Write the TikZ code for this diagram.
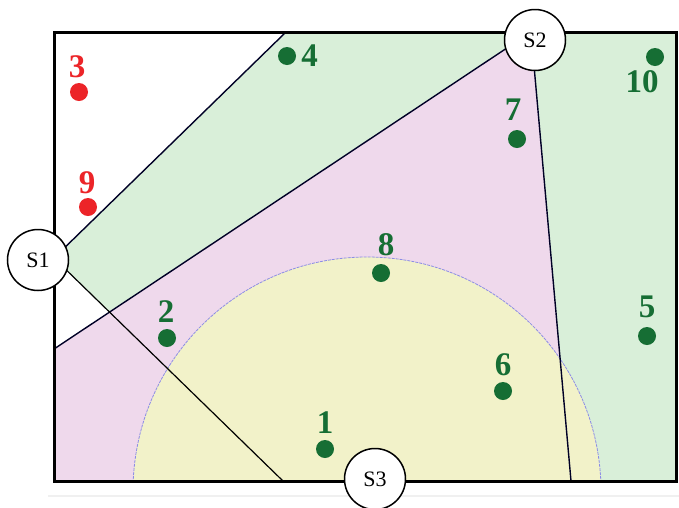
\documentclass[tikz,border=0pt]{standalone}
\usepackage{fontspec}
\setmainfont{Liberation Serif}
\usetikzlibrary{positioning}
\definecolor{zonegreen}{RGB}{217,239,217}
\definecolor{zonepink}{RGB}{239,217,236}
\definecolor{zoneyellow}{RGB}{242,242,201}
\definecolor{dotgreen}{RGB}{22,110,52}
\definecolor{dotred}{RGB}{236,36,40}
\definecolor{arcblue}{RGB}{140,140,230}

\begin{document}
\begin{tikzpicture}[
    x=1pt,
    y=-1pt,
    sensor/.style={
        circle,
        draw=black,
        fill=white,
        line width=1.5pt,
        minimum size=61pt,
        inner sep=0pt,
        font=\fontsize{22}{22}\selectfont
    },
    target/.style={
        circle,
        fill=#1,
        minimum size=18pt,
        inner sep=0pt
    },
    num/.style={
        text=#1,
        inner sep=0pt,
        font=\bfseries\fontsize{33}{33}\selectfont
    },
    edge/.style={line width=1.4pt, draw=black!85!blue},
    cut/.style={line width=1.2pt, draw=black},
    border/.style={line width=3pt, draw=black}
]

\useasboundingbox[fill=white] (0,0) rectangle (679,507);

\coordinate (tl) at (54,32);
\coordinate (br) at (676,481);
\coordinate (bl) at (54,481);
\coordinate (s1) at (54,258);
\coordinate (s2) at (531,32);
\coordinate (a1) at (286,32);
\coordinate (c1) at (283,481);
\coordinate (b1) at (54,349);
\coordinate (d1) at (571,481);
\coordinate (cx) at (intersection of s1--c1 and b1--s2);
\coordinate (arc) at (367,491);

\begin{scope}
\clip (tl) rectangle (br);
\fill[zonegreen] (tl) rectangle (br);
\fill[white] (tl) -- (a1) -- (s1) -- cycle;
\fill[white] (s1) -- (cx) -- (b1) -- cycle;
\fill[zonepink] (b1) -- (s2) -- (d1) -- (bl) -- cycle;
\fill[zoneyellow] (arc) circle[radius=234pt];
\draw[arcblue, line width=0.8pt, dash pattern=on 3pt off 1pt] (arc) circle[radius=234pt];
\end{scope}

\draw[edge] (s1) -- (a1);
\draw[edge] (b1) -- (s2);
\draw[edge] (s2) -- (d1);
\draw[cut] (s1) -- (c1);
\draw[border] (tl) rectangle (br);
\draw[gray!12, line width=2pt] (48,496) -- (679,496);

\node[target=dotred] (n3) at (79,92) {};
\node[target=dotred] (n9) at (88,207) {};
\node[target=dotgreen] (n4) at (287,56) {};
\node[target=dotgreen] (n10) at (655,57) {};
\node[target=dotgreen] (n7) at (517,139) {};
\node[target=dotgreen] (n8) at (381,273) {};
\node[target=dotgreen] (n2) at (167,338) {};
\node[target=dotgreen] (n1) at (325,449) {};
\node[target=dotgreen] (n6) at (503,391) {};
\node[target=dotgreen] (n5) at (647,336) {};

\node[num=dotred, above=5pt of n3, xshift=-2pt] (l3) {3};
\node[num=dotred, above=4pt of n9, xshift=-1pt] (l9) {9};
\node[num=dotgreen, right=5pt of n4] (l4) {4};
\node[num=dotgreen, below=4pt of n10, xshift=-13pt] (l10) {10};
\node[num=dotgreen, above=9pt of n7, xshift=-4pt] (l7) {7};
\node[num=dotgreen, above=8pt of n8, xshift=5pt] (l8) {8};
\node[num=dotgreen, above=6pt of n2, xshift=-1pt] (l2) {2};
\node[num=dotgreen, above=6pt of n1] (l1) {1};
\node[num=dotgreen, above=6pt of n6] (l6) {6};
\node[num=dotgreen, above=9pt of n5] (l5) {5};

\node[sensor] (S1) at (38,260) {S1};
\node[sensor] (S2) at (535,40) {S2};
\node[sensor] (S3) at (375,479) {S3};

\end{tikzpicture}
\end{document}
